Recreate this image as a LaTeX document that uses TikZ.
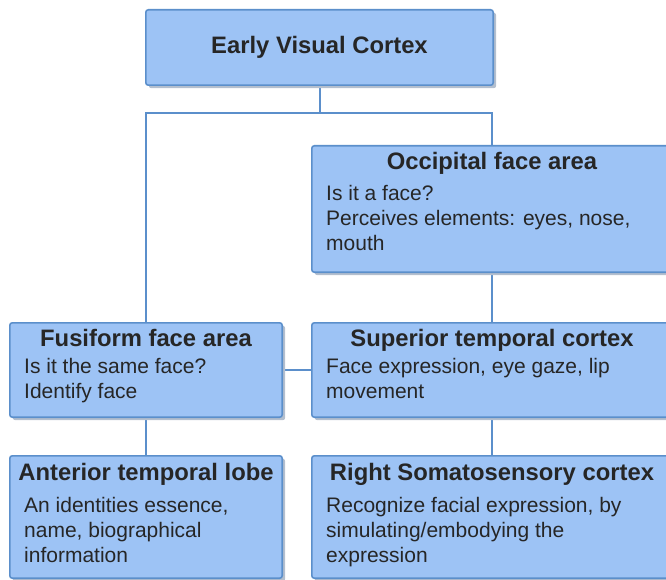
\documentclass[tikz,border=0pt]{standalone}
\usepackage{fontspec}
\setmainfont{Liberation Sans}
\usetikzlibrary{shadows}
\definecolor{boxfill}{HTML}{9DC3F5}
\definecolor{boxline}{HTML}{5B8FCB}
\definecolor{shade}{HTML}{B4BFCE}
\definecolor{ink}{HTML}{262626}

\begin{document}
\begin{tikzpicture}[x=1pt,y=-1pt,line cap=round]
	\tikzstyle{box}=[draw=boxline,fill=boxfill,line width=1.6pt,rounded corners=2.5pt,inner sep=0pt,drop shadow={shadow xshift=3pt,shadow yshift=-3pt,fill=shade,opacity=1}];
	\tikzstyle{ttl}=[inner sep=0pt,text=ink,font=\fontsize{23.8}{28}\selectfont\bfseries];
	\tikzstyle{txt}=[inner sep=0pt,text=ink,align=left,font=\fontsize{21}{25}\selectfont];
	\tikzstyle{wire}=[draw=boxline,line width=2pt];

	\useasboundingbox (0,0) rectangle (666,580);
	\clip (0,0) rectangle (666,580);

	% connectors first, boxes on top
	\coordinate (split) at (319.5,113);
	\node[minimum width=347pt,minimum height=75pt,inner sep=0pt] (evc) at (319.5,47.5) {};
	\node[minimum width=360pt,minimum height=126pt,inner sep=0pt] (ofa) at (492,209) {};
	\node[minimum width=360pt,minimum height=94pt,inner sep=0pt]  (stc) at (492,370) {};
	\node[minimum width=360pt,minimum height=122pt,inner sep=0pt] (rsc) at (492,517) {};
	\node[minimum width=272pt,minimum height=94pt,inner sep=0pt]  (ffa) at (146,370) {};
	\node[minimum width=272pt,minimum height=122pt,inner sep=0pt] (atl) at (146,517) {};
	\draw[wire] (evc) -- (split) -| (ffa);
	\draw[wire] (split) -| (ofa);
	\draw[wire] (ofa) -- (stc);
	\draw[wire] (stc) -- (rsc);
	\draw[wire] (ffa) -- (stc);
	\draw[wire] (ffa) -- (atl);

	% boxes
	\draw[box] (evc.north west) rectangle (evc.south east);
	\draw[box] (ofa.north west) rectangle (ofa.south east);
	\draw[box] (stc.north west) rectangle (stc.south east);
	\draw[box] (rsc.north west) rectangle (rsc.south east);
	\draw[box] (ffa.north west) rectangle (ffa.south east);
	\draw[box] (atl.north west) rectangle (atl.south east);

	% titles
	\node[ttl,anchor=base] (evct) at (319.5,54) {Early Visual Cortex};
	\node[ttl,anchor=base] (ofat) at (492,170) {Occipital face area};
	\node[ttl,anchor=base] (stct) at (492,346) {Superior temporal cortex};
	\node[ttl,anchor=base] (rsct) at (492,480) {Right Somatosensory cortex};
	\node[ttl,anchor=base] (ffat) at (146,346) {Fusiform face area};
	\node[ttl,anchor=base] (atlt) at (146,480) {Anterior temporal lobe};

	% texts (base = last line)
	\node[txt,anchor=base west] (ofab) at (326,250) {Is it a face?\\Perceives elements: eyes, nose,\\mouth};
	\node[txt,anchor=base west] (stcb) at (326,398) {Face expression, eye gaze, lip\\movement};
	\node[txt,anchor=base west] (rscb) at (326,562) {Recognize facial expression, by\\simulating/embodying the\\expression};
	\node[txt,anchor=base west] (ffab) at (24,398) {Is it the same face?\\Identify face};
	\node[txt,anchor=base west] (atlb) at (24,562) {An identities essence,\\name, biographical\\information};
\end{tikzpicture}
\end{document}
